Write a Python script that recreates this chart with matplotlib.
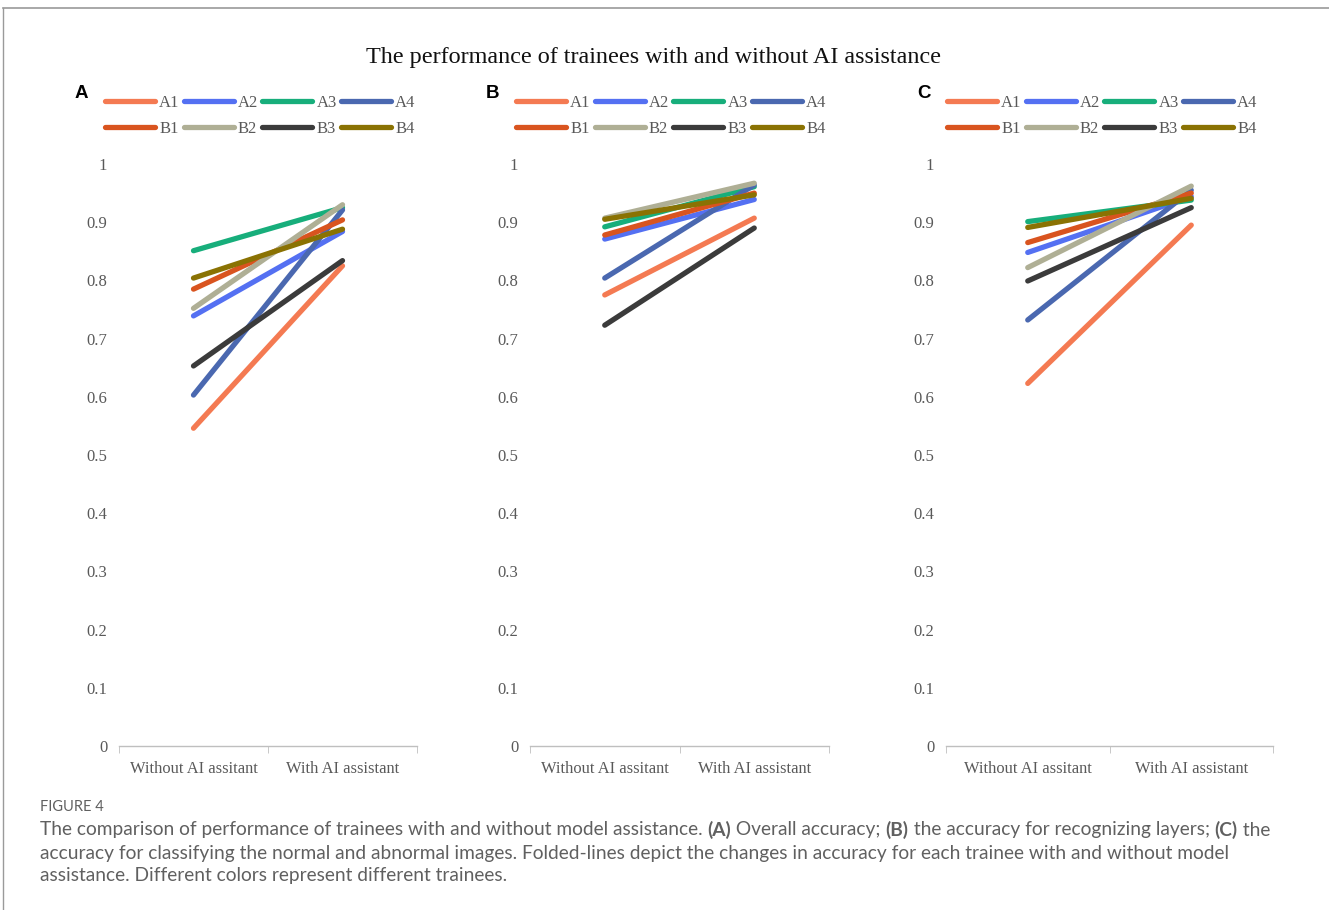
import matplotlib
matplotlib.use('Agg')
import matplotlib.pyplot as plt
from matplotlib.lines import Line2D

W, H = 1329, 910

# trainees and colours
trainees = ['A1', 'A2', 'A3', 'A4', 'B1', 'B2', 'B3', 'B4']
colors = ['#F47A52', '#5470F2', '#17AE7B', '#4A68B0',
          '#D9541F', '#AFAF95', '#3B3B3B', '#8A7203']
conditions = ['Without AI assitant', 'With AI assistant']
ytick_vals = [0, 0.1, 0.2, 0.3, 0.4, 0.5, 0.6, 0.7, 0.8, 0.9, 1]
ytick_labels = ['0', '0.1', '0.2', '0.3', '0.4', '0.5', '0.6', '0.7', '0.8', '0.9', '1']

# (A) overall accuracy
overall_without = [0.546, 0.739, 0.851, 0.603, 0.785, 0.752, 0.653, 0.804]
overall_with = [0.825, 0.884, 0.925, 0.921, 0.904, 0.930, 0.834, 0.888]
# (B) accuracy for recognizing layers
layers_without = [0.775, 0.871, 0.892, 0.804, 0.878, 0.907, 0.723, 0.905]
layers_with = [0.907, 0.939, 0.961, 0.964, 0.950, 0.967, 0.890, 0.947]
# (C) accuracy for classifying normal / abnormal images
normal_without = [0.623, 0.848, 0.901, 0.732, 0.865, 0.822, 0.799, 0.891]
normal_with = [0.895, 0.944, 0.938, 0.955, 0.950, 0.962, 0.925, 0.941]

panels = [
    ('A', overall_without, overall_with, 119, 417, 105),
    ('B', layers_without, layers_with, 530, 829, 516),
    ('C', normal_without, normal_with, 946, 1273, 947),
]

serif = 'Liberation Serif'
gray = '#595959'

fig = plt.figure(figsize=(W / 100, H / 100), dpi=100)

# thin frame on top and left like the journal page
fig.add_artist(Line2D([3 / W, 1], [1 - 8 / H, 1 - 8 / H], color='#9a9a9a', lw=1.2))
fig.add_artist(Line2D([3 / W, 3 / W], [0, 1 - 8 / H], color='#9a9a9a', lw=1.0))

fig.text(654 / W, 1 - 57 / H, 'The performance of trainees with and without AI assistance',
         family=serif, fontsize=17.4, ha='center', va='center', color='#111111')

y0, y1 = 746, 164
for letter, before, after, xl, xr, lx in panels:
    ax = fig.add_axes([xl / W, 1 - y0 / H, (xr - xl) / W, (y0 - y1) / H])
    for i, name in enumerate(trainees):
        ax.plot([0, 1], [before[i], after[i]], color=colors[i], lw=3.8,
                solid_capstyle='round', label=name)
    ax.set_xlim(-0.5, 1.5)
    ax.set_ylim(0, 1)
    for s in ['top', 'right', 'left']:
        ax.spines[s].set_visible(False)
    ax.spines['bottom'].set_color('#bfbfbf')
    ax.spines['bottom'].set_linewidth(1.0)
    ax.set_xticks([0, 1])
    ax.set_xticklabels(conditions, family=serif, fontsize=11.9, color=gray)
    ax.set_xticks([-0.5, 0.5, 1.5], minor=True)
    ax.tick_params(axis='x', which='major', length=0, pad=11)
    ax.tick_params(axis='x', which='minor', length=5, color='#bfbfbf', direction='out')
    ax.set_yticks(ytick_vals)
    ax.set_yticklabels(ytick_labels, family=serif, fontsize=12, color=gray)
    ax.tick_params(axis='y', length=0, pad=8.5)

    handles, labels = ax.get_legend_handles_labels()
    order = [0, 4, 1, 5, 2, 6, 3, 7]
    leg_lines = [Line2D([], [], color=colors[k], lw=3.8, solid_capstyle='round') for k in order]
    ax.legend(leg_lines, [labels[k] for k in order], ncol=4, loc='upper left',
              bbox_to_anchor=(lx / W, 1 - 95 / H), bbox_transform=fig.transFigure,
              frameon=False, borderpad=0, borderaxespad=0, handlelength=3.0,
              handletextpad=0.25, columnspacing=0.25, labelspacing=0.58,
              prop={'family': serif, 'size': 12}, labelcolor=gray)
    fig.text((lx - 30) / W, 1 - 93 / H, letter, family='Liberation Sans',
             fontweight='bold', fontsize=13.5, ha='left', va='center')

# caption
cap_font = dict(family='Lato', fontsize=13.8, color='#606060', va='center')
fig.text(40 / W, 1 - 807 / H, 'FIGURE 4', family='Lato', fontsize=10.5, color='#606060', va='center')

renderer = fig.canvas.get_renderer()


def runs(x, y, parts):
    for s, wgt in parts:
        t = fig.text(x / W, 1 - y / H, s, fontweight=wgt, **cap_font)
        x += t.get_window_extent(renderer).width


runs(40, 830, [('The comparison of performance of trainees with and without model assistance. ', 'normal'),
               ('(A)', 'bold'), (' Overall accuracy; ', 'normal'),
               ('(B)', 'bold'), (' the accuracy for recognizing layers; ', 'normal'),
               ('(C)', 'bold'), (' the', 'normal')])
runs(40, 853, [('accuracy for classifying the normal and abnormal images. Folded-lines depict the changes '
                'in accuracy for each trainee with and without model', 'normal')])
runs(40, 876, [('assistance. Different colors represent different trainees.', 'normal')])

fig.savefig('out.png', dpi=100)
